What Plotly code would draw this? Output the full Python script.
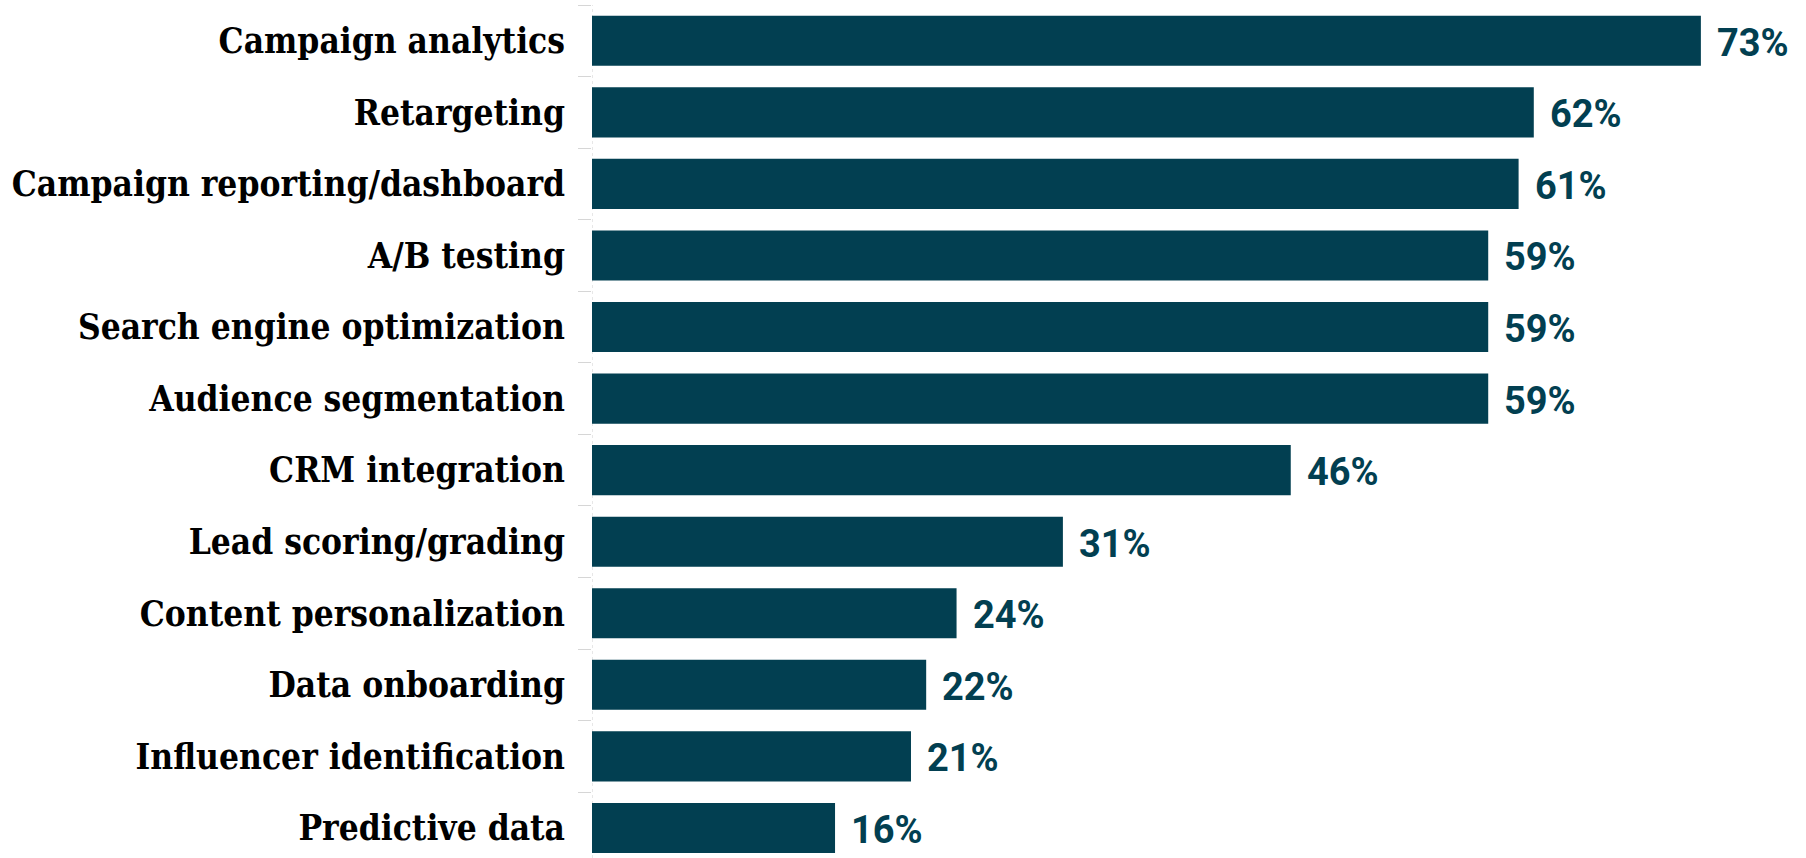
import plotly.graph_objects as go

categories = [
    "Campaign analytics",
    "Retargeting",
    "Campaign reporting/dashboard",
    "A/B testing",
    "Search engine optimization",
    "Audience segmentation",
    "CRM integration",
    "Lead scoring/grading",
    "Content personalization",
    "Data onboarding",
    "Influencer identification",
    "Predictive data",
]
values = [73, 62, 61, 59, 59, 59, 46, 31, 24, 22, 21, 16]
value_labels = [f"{v}%" for v in values]

BAR = "#023f51"
W, H = 1806, 858

fig = go.Figure(
    go.Bar(
        x=values,
        y=categories,
        orientation="h",
        marker=dict(color=BAR, line=dict(width=0)),
        hoverinfo="skip",
    )
)

for cat, v, lab in zip(categories, values, value_labels):
    fig.add_annotation(
        x=v, y=cat, text=lab, showarrow=False,
        xanchor="left", yanchor="middle", xshift=14, yshift=-2,
        font=dict(family="Roboto, Arial, sans-serif", size=38, color=BAR, weight="bold"),
    )

# dotted axis line along the bar baseline
fig.add_shape(
    type="line", xref="x", yref="paper", x0=0, x1=0, y0=0, y1=1,
    line=dict(color="#d0d0d0", width=1, dash="dot"), layer="below",
)

fig.update_layout(
    width=W, height=H,
    margin=dict(l=592, r=0, t=5, b=0),
    paper_bgcolor="white", plot_bgcolor="white",
    bargap=0.3,
    showlegend=False,
    xaxis=dict(range=[0, 79.92], visible=False, fixedrange=True),
    yaxis=dict(
        type="category",
        range=[11.42, -0.5],
        tickson="boundaries",
        ticks="outside", ticklen=13, tickcolor="#d6d6d6", tickwidth=1,
        ticklabelstandoff=26,
        showline=False, showgrid=False, zeroline=False,
        tickfont=dict(family="Roboto Slab, DejaVu Serif Condensed, DejaVu Serif",
                      size=35, color="#000000", weight="bold"),
        fixedrange=True,
    ),
)

fig.write_html("out.html")
